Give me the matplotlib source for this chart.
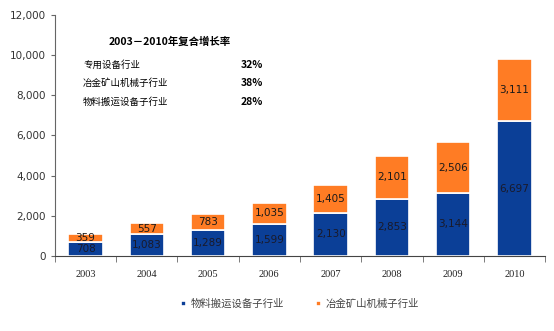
import matplotlib
matplotlib.use("Agg")
import matplotlib.pyplot as plt
import numpy as np

plt.rcParams['font.family'] = ['Noto Sans CJK SC', 'DejaVu Sans']

# 数据
years = ['2003', '2004', '2005', '2006', '2007', '2008', '2009', '2010']
wuliao = [708, 1083, 1289, 1599, 2130, 2853, 3144, 6697]      # 物料搬运设备子行业
yejin = [359, 557, 783, 1035, 1405, 2101, 2506, 3111]         # 冶金矿山机械子行业
cagr_names = ['专用设备行业', '冶金矿山机械子行业', '物料搬运设备子行业']
cagr_vals = ['32%', '38%', '28%']

blue = '#0B3F97'
orange = '#FF7C24'

fig = plt.figure(figsize=(5.54, 3.31), dpi=100)
ax = fig.add_axes([0.099, 0.227, 0.885, 0.728])

x = np.arange(len(years))
w = 0.56
ax.bar(x, wuliao, w, color=blue, edgecolor='white', linewidth=1.2,
       label='物料搬运设备子行业')
ax.bar(x, yejin, w, bottom=wuliao, color=orange, edgecolor='white',
       linewidth=1.2, label='冶金矿山机械子行业')

for i in range(len(years)):
    ax.text(x[i], wuliao[i] / 2, f'{wuliao[i]:,}', ha='center', va='center',
            fontsize=7.5, color='#1a1a2a', family='DejaVu Sans')
    ax.text(x[i], wuliao[i] + yejin[i] / 2, f'{yejin[i]:,}', ha='center',
            va='center', fontsize=7.5, color='#1a1a1a', family='DejaVu Sans')

ax.set_xlim(-0.5, len(years) - 0.5)
ax.set_ylim(0, 12000)
ax.set_yticks(np.arange(0, 12001, 2000))
ax.set_yticklabels([f'{v:,}' for v in range(0, 12001, 2000)],
                   fontsize=7.5, color='#333333', family='DejaVu Sans')
ax.set_xticks(x)
ax.set_xticklabels(years, fontsize=7.5, family='Liberation Serif', color='#222222')
ax.set_xticks(np.arange(-0.5, len(years), 1), minor=True)
ax.tick_params(axis='x', which='major', length=0, pad=10)
ax.tick_params(axis='x', which='minor', length=4, direction='out', color='#666666')
ax.tick_params(axis='y', length=3, color='#666666')
for s in ['top', 'right']:
    ax.spines[s].set_visible(False)
ax.spines['left'].set_color('#666666')
ax.spines['bottom'].set_color('#444444')

# 复合增长率说明
fig.text(0.307, 0.875, '2003－2010年复合增长率', fontsize=7.5, fontweight='bold',
         ha='center', va='center')
for k, (n, v) in enumerate(zip(cagr_names, cagr_vals)):
    yy = 0.805 - k * 0.057
    fig.text(0.150, yy, n, fontsize=6.8, ha='left', va='center')
    fig.text(0.475, yy, v, fontsize=7.5, fontweight='bold', ha='right', va='center')

ax.legend(loc='upper center', bbox_to_anchor=(0.5, -0.14), ncol=2,
          frameon=False, fontsize=7.5, handlelength=0.5, handleheight=0.5,
          columnspacing=3, handletextpad=0.5, labelcolor='#444444')

fig.savefig('out.png', dpi=100)
